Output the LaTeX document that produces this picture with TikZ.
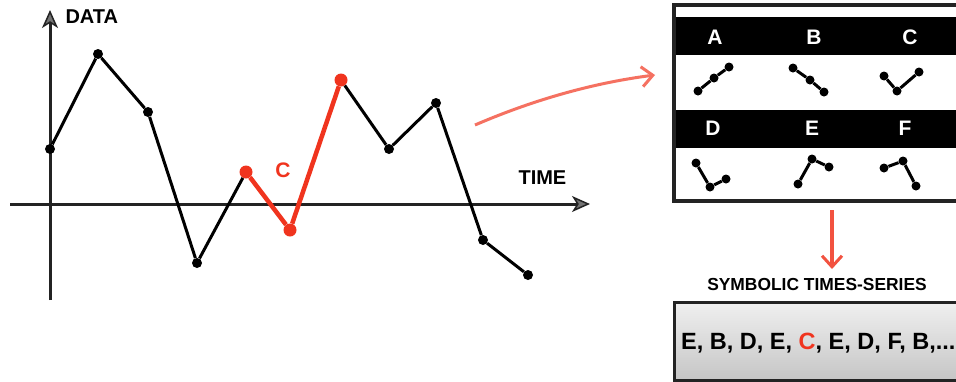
\documentclass[tikz,border=0pt]{standalone}
\usepackage{fontspec}
\setmainfont{Liberation Sans}
\usetikzlibrary{arrows.meta}
\definecolor{accent}{RGB}{240,52,30}
\definecolor{axisgray}{RGB}{35,35,35}
\begin{document}
\begin{tikzpicture}[x=1pt,y=-1pt,
  dot/.style={circle,fill=black,inner sep=0pt,minimum size=10pt},
  rdot/.style={circle,fill=accent,inner sep=0pt,minimum size=13pt},
  gdot/.style={circle,fill=black,inner sep=0pt,minimum size=9pt},
  seg/.style={line width=3pt,black},
  rseg/.style={line width=4.5pt,accent},
  axisline/.style={line width=3pt,axisgray,-{Stealth[length=18pt,width=16pt,inset=5pt,fill=black!55,line width=1.5pt]}},
  lbl/.style={font=\bfseries\fontsize{20}{20}\selectfont},
  band/.style={fill=black},
  bandtxt/.style={font=\bfseries\fontsize{21}{21}\selectfont,text=white},
  redarrow/.style={line width=3.5pt,accent!85,-{Straight Barb[length=11pt,width=20pt,line width=3pt]}},
]
\useasboundingbox (0,0) rectangle (956,381);
\clip (0,0) rectangle (956,381);
\fill[white] (0,0) rectangle (956,381);

% axes
\coordinate (xs) at (10,204);
\coordinate (xe) at (590,204);
\coordinate (ys) at (50,300);
\coordinate (ye) at (50,10);
\draw[axisline] (xs) -- (xe);
\draw[axisline] (ys) -- (ye);
\node[lbl,anchor=west] (data) at (62,17) {DATA};
\node[lbl,anchor=west] (time) at (515,178) {TIME};

% series
\node[dot] (p1) at (50,149) {};
\node[dot] (p2) at (98,54) {};
\node[dot] (p3) at (148,112) {};
\node[dot] (p4) at (197,263) {};
\node[rdot] (p5) at (246,172) {};
\node[rdot] (p6) at (290,230) {};
\node[rdot] (p7) at (341,80) {};
\node[dot] (p8) at (389,149) {};
\node[dot] (p9) at (436,103) {};
\node[dot] (p10) at (483,240) {};
\node[dot] (p11) at (528,275) {};
\draw[seg] (p1) -- (p2) -- (p3) -- (p4) -- (p5);
\draw[seg] (p7) -- (p8) -- (p9) -- (p10) -- (p11);
\draw[rseg] (p5) -- (p6) -- (p7);
\node[font=\bfseries\fontsize{21}{21}\selectfont,text=accent] (clbl) at (283,170) {C};

% curved arrow
\coordinate (cs) at (475,125);
\coordinate (ce) at (655,75);
\draw[redarrow,accent!70,line width=3pt] (cs) .. controls (540,97) and (600,82) .. (ce);

% table box
\fill[band] (674,17) rectangle (960,55);
\fill[band] (674,110) rectangle (960,148);
\draw[axisgray,line width=3.5pt] (960,5) -- (674,5) -- (674,201) -- (960,201);
\node[bandtxt] (la) at (715,37) {A};
\node[bandtxt] (lb) at (814,37) {B};
\node[bandtxt] (lc) at (910,37) {C};
\node[bandtxt] (ld) at (713,128) {D};
\node[bandtxt] (le) at (812,128) {E};
\node[bandtxt] (lf) at (905,128) {F};

% glyphs
\node[gdot] (a1) at (698,91) {};
\node[gdot] (a2) at (714,78) {};
\node[gdot] (a3) at (729,67) {};
\draw[seg] (a1) -- (a2) -- (a3);
\node[gdot] (b1) at (793,68) {};
\node[gdot] (b2) at (810,80) {};
\node[gdot] (b3) at (824,92) {};
\draw[seg] (b1) -- (b2) -- (b3);
\node[gdot] (c1) at (884,76) {};
\node[gdot] (c2) at (897,91) {};
\node[gdot] (c3) at (919,72) {};
\draw[seg] (c1) -- (c2) -- (c3);
\node[gdot] (d1) at (696,163) {};
\node[gdot] (d2) at (710,187) {};
\node[gdot] (d3) at (726,179) {};
\draw[seg] (d1) -- (d2) -- (d3);
\node[gdot] (e1) at (798,184) {};
\node[gdot] (e2) at (812,159) {};
\node[gdot] (e3) at (829,167) {};
\draw[seg] (e1) -- (e2) -- (e3);
\node[gdot] (f1) at (884,168) {};
\node[gdot] (f2) at (903,161) {};
\node[gdot] (f3) at (916,186) {};
\draw[seg] (f1) -- (f2) -- (f3);

% down arrow
\coordinate (ds) at (832,210);
\coordinate (de) at (832,269);
\draw[redarrow] (ds) -- (de);

\node[font=\bfseries\fontsize{17.4}{17.4}\selectfont] (sym) at (817,285) {SYMBOLIC TIMES-SERIES};

% result box
\shade[top color=gray!12,bottom color=gray!45] (674,302) rectangle (960,380);
\draw[axisgray,line width=3pt] (960,302) -- (674,302) -- (674,380) -- (960,380);
\node[font=\bfseries\fontsize{23.5}{23.5}\selectfont,anchor=west,inner sep=0pt] (seq) at (681,343) {E, B, D, E, \textcolor{accent}{C}, E, D, F, B,...};
\end{tikzpicture}
\end{document}
